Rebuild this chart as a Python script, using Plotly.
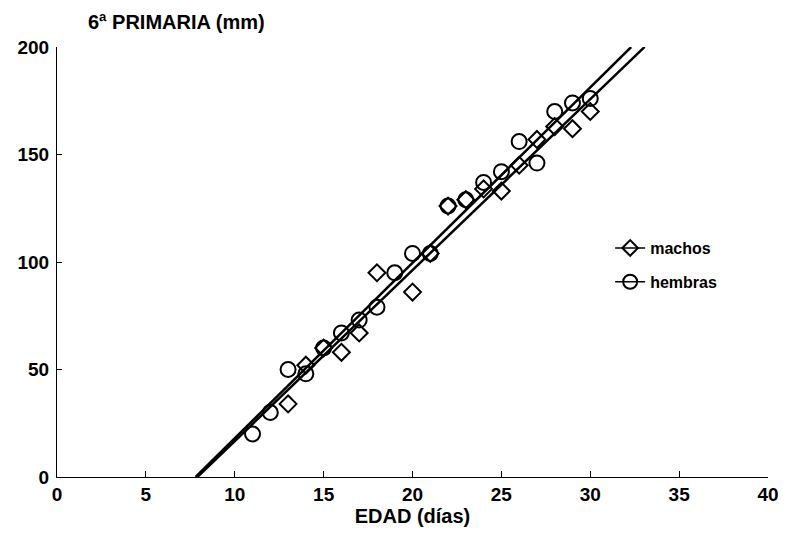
import plotly.graph_objects as go

# ---- data ----
machos_dias = [13, 14, 15, 16, 17, 18, 20, 21, 22, 23, 24, 25, 26, 27, 28, 29, 30]
machos_mm = [34, 52, 60, 58, 67, 95, 86, 104, 126, 129, 134, 133, 145, 157, 163, 162, 170]

hembras_dias = [11, 12, 13, 14, 15, 16, 17, 18, 19, 20, 21, 22, 23, 24, 25, 26, 27, 28, 29, 30]
hembras_mm = [20, 30, 50, 48, 60, 67, 73, 79, 95, 104, 104, 126, 129, 137, 142, 156, 146, 170, 174, 176]

# regression lines: intercept, slope, x range
machos_fit = {"a": -62.8, "b": 7.95, "x": [7.9, 33.06]}
hembras_fit = {"a": -63.6, "b": 8.16, "x": [7.8, 32.3]}

x_ticks = [0, 5, 10, 15, 20, 25, 30, 35, 40]
y_ticks = [0, 50, 100, 150, 200]

FONT = "Liberation Sans, Arial, Helvetica, sans-serif"

fig = go.Figure()

for name, fit, dias, mm, sym, size in [
    ("machos", machos_fit, machos_dias, machos_mm, "diamond-open", 13),
    ("hembras", hembras_fit, hembras_dias, hembras_mm, "circle-open", 15),
]:
    fx = fit["x"]
    fy = [fit["a"] + fit["b"] * v for v in fx]
    fig.add_trace(go.Scatter(x=fx, y=fy, mode="lines", line=dict(color="black", width=2.5),
                             showlegend=False, legendgroup=name, hoverinfo="skip"))
    fig.add_trace(go.Scatter(x=dias, y=mm, mode="markers",
                             marker=dict(symbol=sym, size=size, color="black", line=dict(width=2, color="black")),
                             showlegend=False, legendgroup=name, name=name))
    fig.add_trace(go.Scatter(x=[None], y=[None], mode="lines+markers", name=name, legendgroup=name,
                             line=dict(color="black", width=1.5),
                             marker=dict(symbol=sym, size=size - 1, color="black", line=dict(width=2, color="black"))))

fig.update_layout(
    width=778, height=527,
    margin=dict(l=49, r=18, t=39, b=58),
    paper_bgcolor="white", plot_bgcolor="white",
    font=dict(family=FONT, color="black", size=19, weight="bold"),
    showlegend=True,
    legend=dict(x=0.778, y=0.572, xanchor="left", yanchor="top", bgcolor="rgba(0,0,0,0)",
                font=dict(size=16, family=FONT, weight="bold"), traceorder="grouped", tracegroupgap=10),
    xaxis=dict(range=[0, 40], tickvals=x_ticks, ticks="inside", ticklen=6, tickwidth=1, tickcolor="black",
               showline=True, linecolor="black", linewidth=1, showgrid=False, zeroline=False, automargin=False,
               title=dict(text="EDAD (días)", standoff=4, font=dict(size=20, family=FONT, weight="bold"))),
    yaxis=dict(range=[0, 200], tickvals=y_ticks, ticks="inside", ticklen=5, tickwidth=1, tickcolor="black",
               ticklabelstandoff=3, automargin=False,
               showline=True, linecolor="black", linewidth=1, showgrid=False, zeroline=False),
    annotations=[dict(text="6ª PRIMARIA (mm)", xref="paper", yref="paper", x=0.041, y=1.0, yshift=12,
                      xanchor="left", yanchor="bottom", showarrow=False,
                      font=dict(size=20, family=FONT, weight="bold"))],
)

fig.write_html("out.html")
